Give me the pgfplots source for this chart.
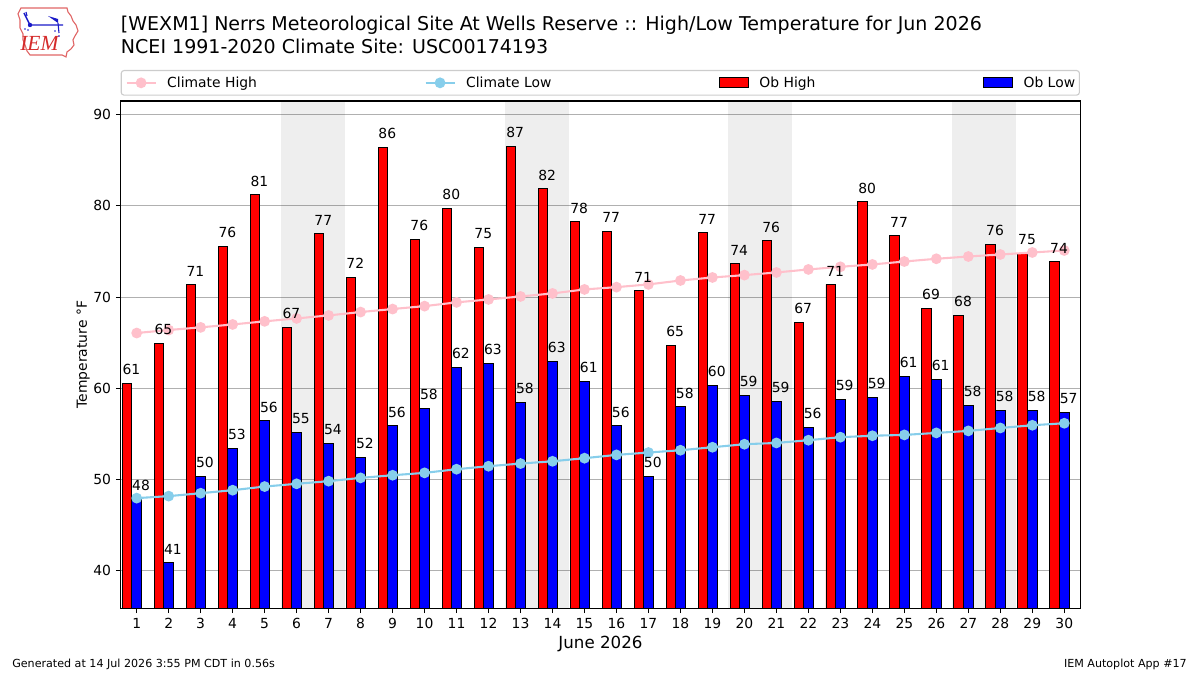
\documentclass[border=0pt]{standalone}
\usepackage{fontspec}
\setmainfont{DejaVu Sans}
\newfontfamily\logofont{Liberation Serif}
\usepackage{pgfplots}
\usepackage{pgfplotstable}
\pgfplotsset{compat=1.18}
\definecolor{pinkc}{HTML}{FFC0CB}
\definecolor{skyc}{HTML}{87CEEB}
\definecolor{gridc}{HTML}{B0B0B0}
\definecolor{legc}{HTML}{CCCCCC}
\definecolor{logor}{HTML}{E06666}
\definecolor{logot}{HTML}{D42A2A}
\definecolor{logob}{HTML}{1A1AC8}
\pgfplotsset{
  lineleg/.style={legend image code/.code={\draw[mark repeat=2,mark phase=2,##1] plot coordinates {(0pt,0pt) (10.45pt,0pt) (20.9pt,0pt)};}},
  barleg/.style={legend image code/.code={\draw[sharp corners,##1] (0pt,-3.6pt) rectangle (20.9pt,3.6pt);}},
}
\pgfplotstableread{
day high low chigh clow
1 60.55 47.90 66.06 47.96
2 64.93 40.88 66.39 48.18
3 71.39 50.36 66.68 48.50
4 75.55 53.43 67.00 48.83
5 81.24 56.42 67.34 49.23
6 66.68 55.18 67.66 49.53
7 76.97 53.98 67.99 49.82
8 72.19 52.45 68.36 50.18
9 86.45 55.88 68.69 50.47
10 76.35 57.81 69.01 50.73
11 79.71 62.30 69.42 51.13
12 75.44 62.74 69.74 51.46
13 86.55 58.47 70.07 51.75
14 81.90 62.99 70.40 52.00
15 78.28 60.80 70.84 52.34
16 77.23 55.88 71.09 52.70
17 70.73 50.36 71.39 52.96
18 64.71 57.96 71.82 53.21
19 77.08 60.33 72.15 53.54
20 73.69 59.23 72.41 53.87
21 76.20 58.58 72.70 54.01
22 67.23 55.73 73.03 54.31
23 71.39 58.80 73.32 54.64
24 80.47 59.01 73.58 54.80
25 76.75 61.31 73.90 54.89
26 68.76 61.02 74.20 55.11
27 67.99 58.14 74.45 55.33
28 75.77 57.59 74.67 55.65
29 74.78 57.59 74.89 55.95
30 73.90 57.37 75.11 56.17
}\data
\pgfplotstableread{
x top
5.5 91.5
7.5 91.5
}\wkA
\pgfplotstableread{
x top
12.5 91.5
14.5 91.5
}\wkB
\pgfplotstableread{
x top
19.5 91.5
21.5 91.5
}\wkC
\pgfplotstableread{
x top
26.5 91.5
28.5 91.5
}\wkD
\begin{document}
\begin{tikzpicture}
\path[use as bounding box] (0,0) rectangle (864pt,486pt);
\begin{axis}[
  at={(86.9pt,48pt)}, anchor=south west,
  width=690.9pt, height=365.3pt, scale only axis,
  xmin=0.5, xmax=30.5, ymin=35.88, ymax=91.5,
  xtick={1,...,30}, ytick={40,50,60,70,80,90},
  /pgf/number format/assume math mode=true,
  ymajorgrids, grid style={color=gridc, line width=0.8pt},
  axis line style={line width=0.8pt},
  tick style={black, line width=0.8pt},
  major tick length=3.5pt, tick align=outside,
  xtick pos=bottom, ytick pos=left,
  ticklabel style={font=\fontsize{10}{12}\selectfont},
  ylabel={Temperature °F},
  every axis y label/.style={at={(axis description cs:-0.0352,0.5)}, rotate=90, anchor=base, font=\fontsize{10}{12}\selectfont},
  xlabel={June 2026},
  every axis x label/.style={at={(axis description cs:0.5,0)}, anchor=base, yshift=-28.6pt, font=\fontsize{12}{14}\selectfont},
  legend columns=4,
  legend cell align=left,
  legend style={at={(0,1)}, anchor=south west, yshift=3.8pt, draw=legc, line width=0.8pt, rounded corners=2pt,
    inner xsep=3.1pt, inner ysep=4.3pt, font=\fontsize{10}{12}\selectfont,
    nodes={inner sep=0pt},
    /tikz/every odd column/.append style={column sep=7.6pt},
    /tikz/every even column/.append style={column sep=120.6pt}},
]
% weekend shading
\addplot[fill=black, fill opacity=0.067, draw=none, forget plot] table[x=x, y=top] {\wkA} \closedcycle;
\addplot[fill=black, fill opacity=0.067, draw=none, forget plot] table[x=x, y=top] {\wkB} \closedcycle;
\addplot[fill=black, fill opacity=0.067, draw=none, forget plot] table[x=x, y=top] {\wkC} \closedcycle;
\addplot[fill=black, fill opacity=0.067, draw=none, forget plot] table[x=x, y=top] {\wkD} \closedcycle;
% bars
\addplot[ybar, bar width=0.3, bar shift=0pt, fill=red, draw=black, line width=0.7pt, forget plot] table[x expr=\thisrow{day}-0.3, y=high] {\data};
\addplot[ybar, bar width=0.3, bar shift=0pt, fill=blue, draw=black, line width=0.7pt, forget plot] table[x=day, y=low] {\data};
% climate lines
\addplot[color=pinkc, line width=1.5pt, mark=*, mark size=3.1pt, mark options={fill=pinkc, draw=pinkc}, forget plot] table[x=day, y=chigh] {\data};
\addplot[color=skyc, line width=1.5pt, mark=*, mark size=3.1pt, mark options={fill=skyc, draw=skyc}, forget plot] table[x=day, y=clow] {\data};
% labels
\addplot[draw=none, mark=none, forget plot, point meta=y,
  nodes near coords={\pgfmathprintnumber[fixed,precision=0]{\pgfplotspointmeta}},
  every node near coord/.style={anchor=south west, inner sep=0pt, yshift=5.8pt, font=\fontsize{10}{12}\selectfont, black}]
  table[x expr=\thisrow{day}-0.45, y=high] {\data};
\addplot[draw=none, mark=none, forget plot, point meta=y,
  nodes near coords={\pgfmathprintnumber[fixed,precision=0]{\pgfplotspointmeta}},
  every node near coord/.style={anchor=south west, inner sep=0pt, yshift=5.8pt, font=\fontsize{10}{12}\selectfont, black}]
  table[x expr=\thisrow{day}-0.15, y=low] {\data};
% legend
\addlegendimage{lineleg, color=pinkc, line width=1.5pt, mark=*, mark size=3.1pt, mark options={fill=pinkc, draw=pinkc}}
\addlegendentry{Climate High}
\addlegendimage{lineleg, color=skyc, line width=1.5pt, mark=*, mark size=3.1pt, mark options={fill=skyc, draw=skyc}}
\addlegendentry{Climate Low}
\addlegendimage{barleg, fill=red, draw=black, line width=0.7pt}
\addlegendentry{Ob High}
\addlegendimage{barleg, fill=blue, draw=black, line width=0.7pt}
\addlegendentry{Ob Low}
\end{axis}
\begin{scope}[x=0.72pt, y=-0.72pt, shift={(0,486pt)}]
% titles
\node[anchor=base west, inner sep=0pt, font=\fontsize{13.7}{16}\selectfont] at (120.7,31) {[WEXM1] Nerrs Meteorological Site At Wells Reserve :: High/Low Temperature for Jun 2026};
\node[anchor=base west, inner sep=0pt, font=\fontsize{13.7}{16}\selectfont] at (120.7,54) {NCEI 1991-2020 Climate Site: USC00174193};
% footer
\node[anchor=base west, inner sep=0pt, font=\fontsize{8}{10}\selectfont] at (12,668) {Generated at 14 Jul 2026 3:55 PM CDT in 0.56s};
\node[anchor=base east, inner sep=0pt, font=\fontsize{8}{10}\selectfont] at (1187,668) {IEM Autoplot App \#17};
% logo
\draw[logor, line width=0.8pt] (21,8) -- (67,8) -- (68,12) -- (71,16) -- (73,21) -- (76,25) -- (78,31) -- (75,36) -- (73,40) -- (74,45) -- (71,49) -- (67,52) -- (66,57) -- (62,55) -- (30,55) -- (27,51) -- (25,45) -- (23,40) -- (23,34) -- (20,28) -- (20,20) -- (18,14) -- cycle;
\node[anchor=base west, inner sep=0pt, text=logot, font=\logofont\itshape\fontsize{15.5}{17}\selectfont] at (20,51) {IEM};
\draw[logob, line width=1pt] (24,13) -- (30,25) -- (63,25);
\fill[logob] (30,25) circle (2.2);
\fill[logob] (48,16) -- (58,19) -- (58,23) -- cycle;
\draw[logob, line width=0.8pt] (58,23) -- (59,33);
\draw[logob, line width=0.8pt] (26,12) -- (27,16);
\fill[logob] (25,29) circle (0.9) (28,30) circle (0.9) (55,31) circle (0.9) (59,36) circle (0.9);
\end{scope}
\end{tikzpicture}
\end{document}
